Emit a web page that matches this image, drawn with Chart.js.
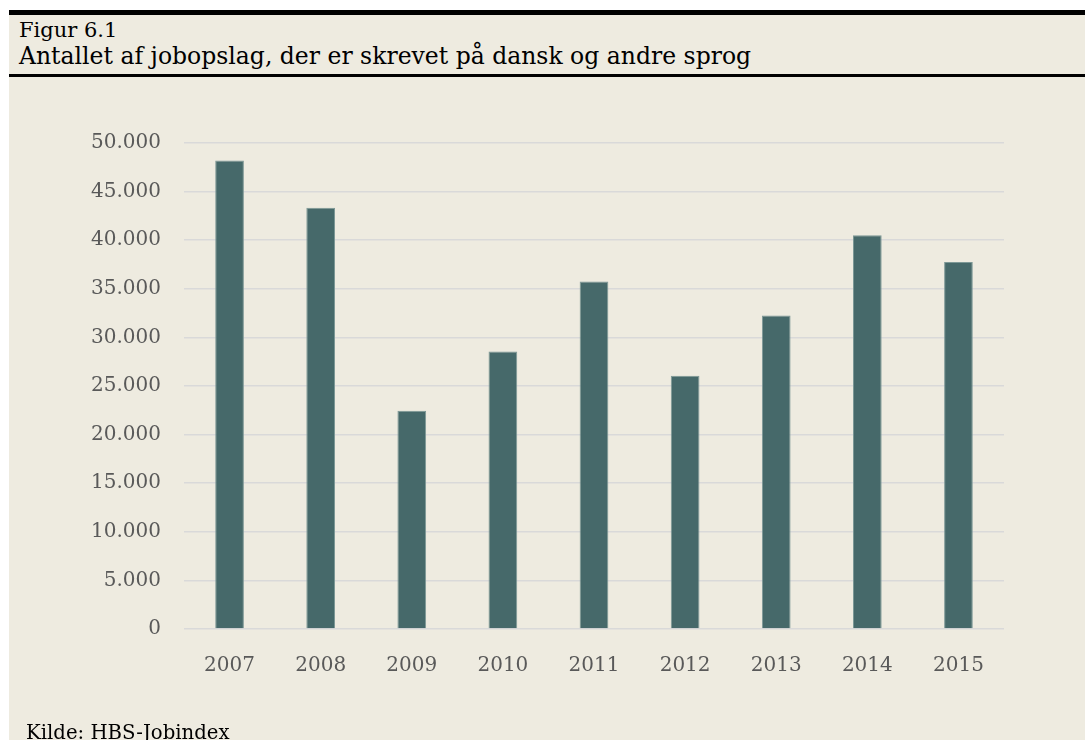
<!DOCTYPE HTML>
<html>
<head>
<meta charset="utf-8">
<title>Figur 6.1</title>
<style>
  html, body { margin: 0; padding: 0; background: #fff; overflow: hidden; }
  #page { position: absolute; left: 9px; top: 10px; width: 1076px; height: 730px; background: #eeebe0; }
  #topbar { position: absolute; left: 9px; top: 10px; width: 1076px; height: 5px; background: #000; }
  #rule { position: absolute; left: 9px; top: 74px; width: 1076px; height: 3px; background: #000; }
  .txt { position: absolute; font-family: "DejaVu Serif", serif; color: #000; white-space: nowrap; line-height: 1; }
  #fig { left: 19px; top: 20px; font-size: 21px; }
  #title { left: 19px; top: 45px; font-size: 23.5px; }
  #src { left: 26px; top: 723px; font-size: 19.7px; }
  #myChart { position: absolute; left: 0; top: 0; }
</style>
</head>
<body>
<div id="page"></div>
<div id="topbar"></div>
<div class="txt" id="fig">Figur 6.1</div>
<div class="txt" id="title">Antallet af jobopslag, der er skrevet på dansk og andre sprog</div>
<div id="rule"></div>
<canvas id="myChart" width="1085" height="740"></canvas>
<div class="txt" id="src">Kilde: HBS-Jobindex</div>

<script src="https://cdn.jsdelivr.net/npm/chart.js@4"></script>
<script>
  // years and number of job postings
  const years = ['2007', '2008', '2009', '2010', '2011', '2012', '2013', '2014', '2015'];
  const postings = [48200, 43350, 22450, 28550, 35750, 26050, 32250, 40500, 37750];

  const fmt = v => v.toLocaleString('da-DK');

  const config = {
    type: 'bar',
    data: {
      labels: years,
      datasets: [{
        label: 'Jobopslag',
        data: postings,
        backgroundColor: '#46696a',
        borderColor: '#7d9896',
        borderWidth: 1,
        categoryPercentage: 1,
        barPercentage: 0.315
      }]
    },
    options: {
      responsive: false,
      animation: false,
      layout: { padding: { left: 40, top: 143, right: 81, bottom: 60 } },
      plugins: { legend: { display: false }, tooltip: { enabled: false } },
      scales: {
        x: {
          grid: { display: false },
          border: { display: false },
          ticks: { color: '#595959', padding: 17, font: { family: 'DejaVu Serif', size: 20 } },
          afterFit: s => { s.height = 51; }
        },
        y: {
          min: 0,
          max: 50000,
          ticks: { stepSize: 5000, color: '#595959', padding: 23, callback: v => fmt(v), font: { family: 'DejaVu Serif', size: 20 } },
          grid: { color: '#d9d9d9', lineWidth: 1.5, drawTicks: false },
          border: { display: false },
          afterFit: s => { s.width = 144; }
        }
      }
    }
  };

  new Chart(document.getElementById('myChart'), config);
</script>
</body>
</html>
